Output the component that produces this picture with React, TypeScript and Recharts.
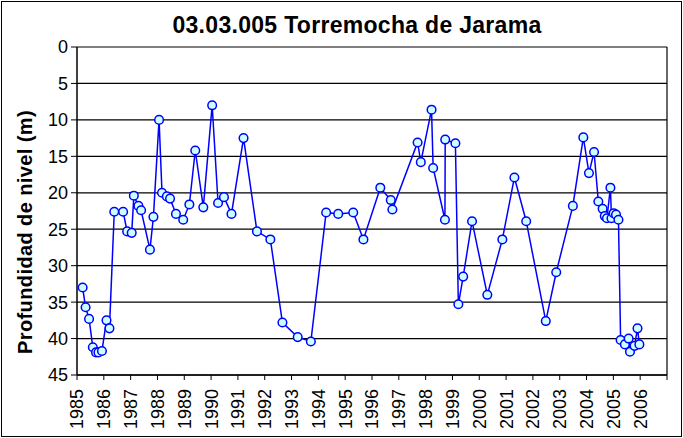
import React from "react";
import { LineChart, Line, XAxis, YAxis, CartesianGrid, ReferenceLine } from "recharts";

// fechas en años decimales, profundidad en metros
const fechas = [
  1985.21, 1985.32, 1985.45, 1985.59, 1985.71, 1985.8, 1985.93, 1986.1, 1986.21, 1986.39,
  1986.72, 1986.87, 1987.04, 1987.12, 1987.29, 1987.39, 1987.72, 1987.85, 1988.06, 1988.17,
  1988.35, 1988.47, 1988.69, 1988.96, 1989.19, 1989.41, 1989.71, 1990.04, 1990.26, 1990.48,
  1990.76, 1991.21, 1991.71, 1992.21, 1992.66, 1993.23, 1993.72, 1994.29, 1994.74, 1995.3,
  1995.68, 1996.31, 1996.7, 1996.76, 1997.7, 1997.82, 1998.22, 1998.28, 1998.72, 1998.73,
  1999.11, 1999.22, 1999.4, 1999.73, 2000.3, 2000.86, 2001.31, 2001.75, 2002.48, 2002.87,
  2003.49, 2003.88, 2004.09, 2004.28, 2004.44, 2004.6, 2004.68, 2004.76, 2004.89, 2004.93,
  2005.01, 2005.1, 2005.19, 2005.27, 2005.43, 2005.57, 2005.62, 2005.79, 2005.9, 2005.97,
];

const profundidad = [
  33.0, 35.7, 37.3, 41.2, 41.9, 41.9, 41.7, 37.5, 38.6, 22.6,
  22.6, 25.3, 25.5, 20.4, 21.8, 22.4, 27.8, 23.3, 10.0, 20.0,
  20.5, 20.8, 22.9, 23.7, 21.6, 14.2, 22.0, 8.0, 21.4, 20.6,
  22.9, 12.5, 25.3, 26.4, 37.8, 39.8, 40.4, 22.7, 22.9, 22.7,
  26.4, 19.3, 21.0, 22.3, 13.1, 15.8, 8.6, 16.6, 23.7, 12.7,
  13.2, 35.3, 31.5, 23.9, 34.0, 26.4, 17.9, 23.9, 37.6, 30.9,
  21.8, 12.4, 17.3, 14.4, 21.2, 22.2, 23.2, 23.5, 19.3, 23.5,
  22.8, 23.0, 23.7, 40.2, 40.8, 40.0, 41.8, 41.0, 38.6, 40.8,
];

const anios = [
  1985, 1986, 1987, 1988, 1989, 1990, 1991, 1992, 1993, 1994, 1995, 1996,
  1997, 1998, 1999, 2000, 2001, 2002, 2003, 2004, 2005, 2006, 2007,
];
const yTicks = [0, 5, 10, 15, 20, 25, 30, 35, 40, 45];

const data = fechas.map((f, i) => ({ fecha: f, prof: profundidad[i] }));

const FONT = "'Liberation Sans', Arial, sans-serif";

const XTick = ({ x, y, payload }: any) => {
  if (payload.value === 2007) return null;
  return (
    <text
      transform={`translate(${x},${y + 7}) rotate(-90)`}
      textAnchor="end"
      dy="0.36em"
      fontSize={18}
      fontFamily={FONT}
      fill="#000"
    >
      {payload.value}
    </text>
  );
};

export default function App() {
  return (
    <div style={{ position: "absolute", left: 0, top: 0, width: 683, height: 438, background: "#fff" }}>
      <div
        style={{
          position: "absolute", left: 1, top: 1, width: 679, height: 434,
          border: "1px solid #000",
        }}
      />
      <div
        style={{
          position: "absolute", left: 57, width: 600, top: 12, textAlign: "center",
          fontFamily: FONT, fontWeight: "bold", fontSize: 23, letterSpacing: 0.3, color: "#000",
        }}
      >
        03.03.005 Torremocha de Jarama
      </div>
      <div style={{ position: "absolute", left: 25, top: 232, width: 0, height: 0 }}>
        <div
          style={{
            position: "absolute", left: -160, top: -12, width: 320, textAlign: "center",
            transform: "rotate(-90deg)", fontFamily: FONT, fontWeight: "bold", fontSize: 20,
            letterSpacing: 0.4, whiteSpace: "nowrap", color: "#000", lineHeight: "24px",
          }}
        >
          Profundidad de nivel (m)
        </div>
      </div>
      <div style={{ position: "absolute", left: 0, top: 0 }}>
        <LineChart width={683} height={438} data={data} margin={{ top: 47, right: 16, left: 0, bottom: 0 }}>
          <CartesianGrid horizontal vertical={false} stroke="#000" strokeWidth={1.2} />
          <XAxis
            dataKey="fecha"
            type="number"
            domain={[1985, 2007]}
            ticks={anios}
            interval={0}
            height={63}
            tickSize={5}
            tick={<XTick />}
            axisLine={{ stroke: "#000", strokeWidth: 1.5 }}
            tickLine={{ stroke: "#000" }}
          />
          <YAxis
            reversed
            domain={[0, 45]}
            ticks={yTicks}
            interval={0}
            width={77}
            tickSize={6}
            tickMargin={3}
            tick={{ fontSize: 18, fontFamily: FONT, fill: "#000" }}
            axisLine={{ stroke: "#000", strokeWidth: 1.5 }}
            tickLine={{ stroke: "#000" }}
          />
          <ReferenceLine x={2007} stroke="#000" strokeWidth={1.2} />
          <Line
            type="linear"
            dataKey="prof"
            stroke="#0000FF"
            strokeWidth={1.5}
            dot={{ r: 4.3, fill: "#CCFFFF", stroke: "#0000FF", strokeWidth: 1.5 }}
            activeDot={false}
            isAnimationActive={false}
          />
        </LineChart>
      </div>
    </div>
  );
}
